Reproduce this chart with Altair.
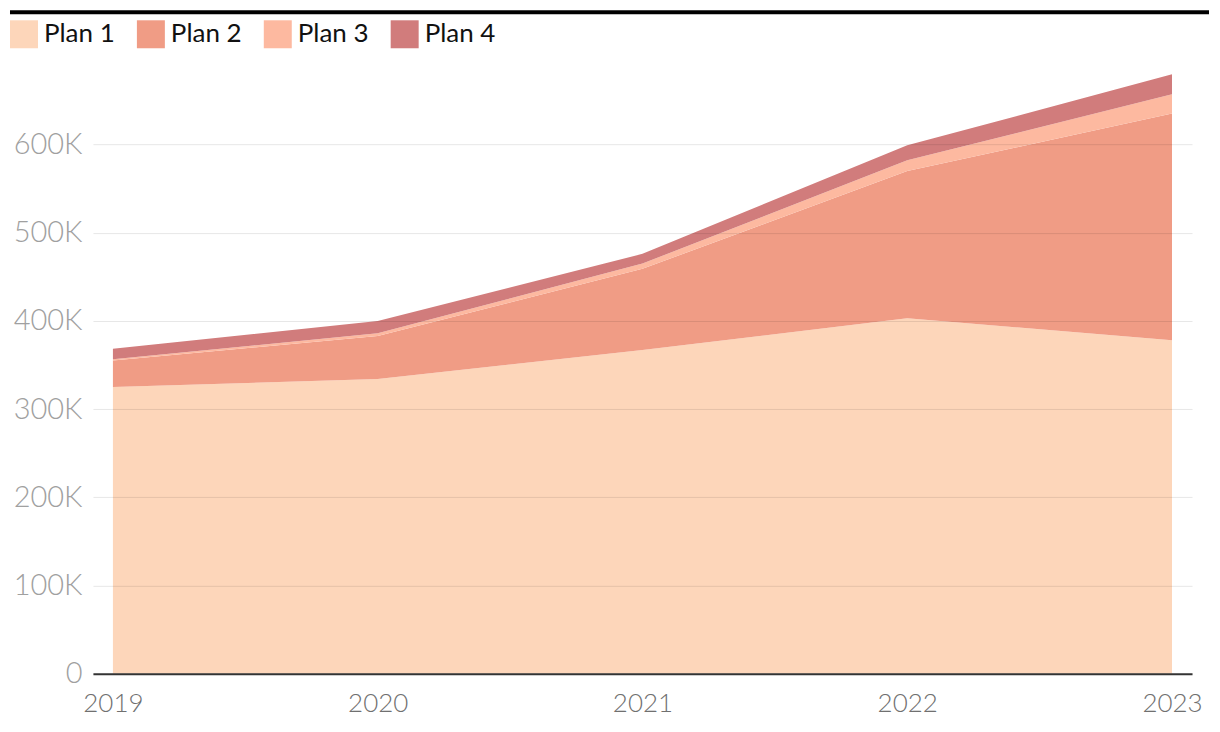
import altair as alt
import pandas as pd

years = [2019, 2020, 2021, 2022, 2023]
plans = ["Plan 1", "Plan 2", "Plan 3", "Plan 4"]
plan1 = [325000, 334000, 367000, 403000, 378000]
plan2 = [30000, 49000, 92000, 167000, 257000]
plan3 = [1500, 3000, 6000, 12000, 22000]
plan4 = [12000, 14000, 11000, 17000, 22500]
colors = ["#FDD6BA", "#F09C85", "#FDB9A0", "#D17C7C"]

rows = []
for i, y in enumerate(years):
    for k, (p, vals) in enumerate(zip(plans, [plan1, plan2, plan3, plan4])):
        rows.append({"year": y, "plan": p, "value": vals[i], "ord": k})
df = pd.DataFrame(rows)

FONT = "Lato"
W, H = 1100, 618

area = alt.Chart(df).mark_area(clip=True).encode(
    x=alt.X("year:Q", scale=alt.Scale(domain=[2018.9245, 2023.0755], nice=False, zero=False),
            axis=alt.Axis(values=years, format="d", title=None, grid=False, ticks=False,
                          domainColor="#333333", domainWidth=2, labelFontSize=26,
                          labelFontWeight=300,
                          labelColor="#707070", labelPadding=17, labelFont=FONT, zindex=1)),
    y=alt.Y("value:Q", stack="zero", scale=alt.Scale(domain=[0, 700000], nice=False),
            axis=alt.Axis(values=[0, 100000, 200000, 300000, 400000, 500000, 600000],
                          labelExpr="datum.value == 0 ? '0' : (datum.value/1000) + 'K'",
                          title=None, domain=False, ticks=False, gridColor="#000000",
                          gridOpacity=0.1, gridWidth=1, labelFontSize=29, labelFontWeight=300,
                          labelColor="#A0A0A0",
                          labelPadding=11, labelFont=FONT, zindex=1)),
    color=alt.Color("plan:N", scale=alt.Scale(domain=plans, range=colors),
                    legend=alt.Legend(title=None, orient="none", legendX=-83, legendY=-36,
                                      direction="horizontal", symbolType="square",
                                      symbolSize=784, symbolStrokeWidth=0, symbolOpacity=1,
                                      labelFontSize=26, labelColor="#111111", labelFont=FONT,
                                      labelOffset=6, columnPadding=22)),
    order=alt.Order("ord:Q"),
)

rule = alt.Chart(pd.DataFrame({"a": [0]})).mark_rule(color="#000000", strokeWidth=4, clip=False).encode(
    x=alt.value(-83), x2=alt.value(1117), y=alt.value(-44)
)

chart = alt.layer(area, rule).properties(
    width=W, height=H,
    autosize=alt.AutoSizeParams(type="none"),
    padding={"left": 85, "top": 48, "right": 20, "bottom": 50},
).configure(font=FONT).configure_view(stroke=None, strokeWidth=0)

chart.save("out.html", embed_options={"renderer": "svg", "actions": False})
